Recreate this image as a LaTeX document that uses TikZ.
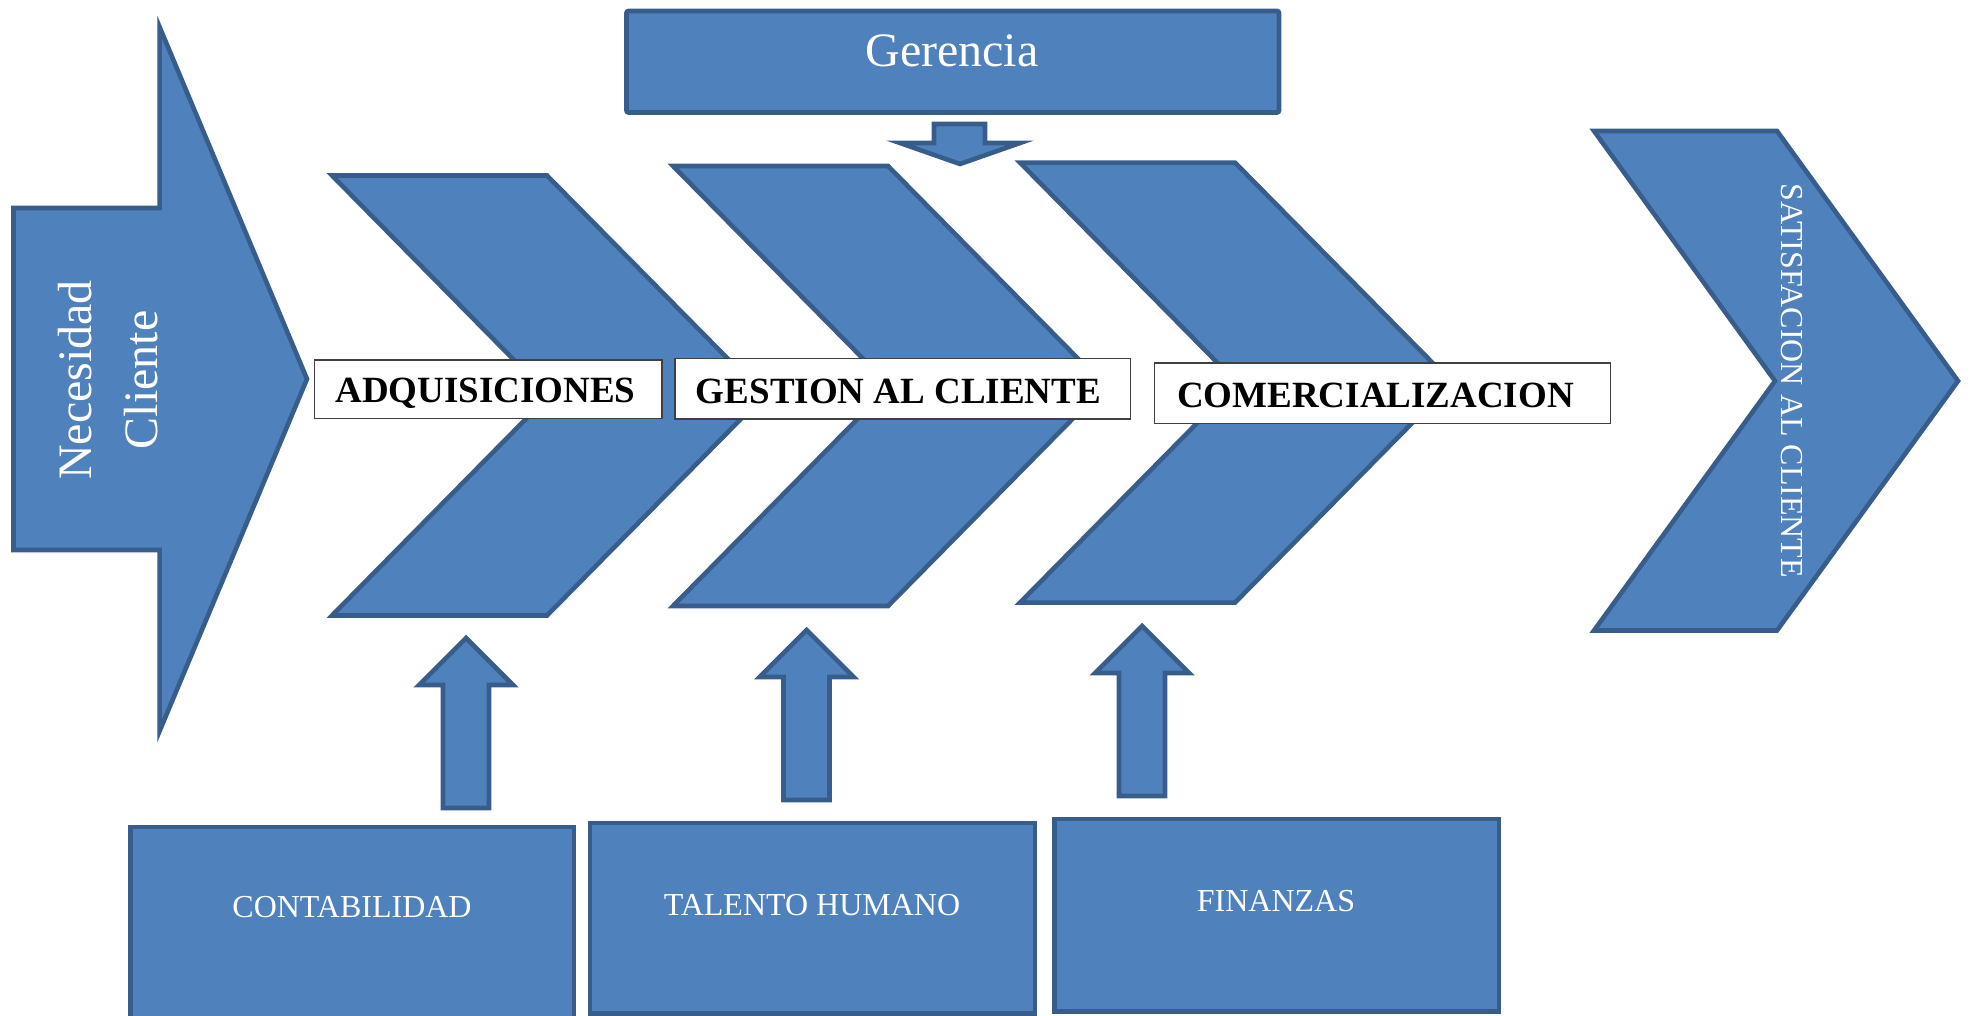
\documentclass[tikz,border=0pt]{standalone}
\usepackage{fontspec}
\setmainfont{Liberation Serif}
\usepackage{tikz}
\usetikzlibrary{positioning}
\definecolor{procblue}{HTML}{4F81BD}
\definecolor{edgeblue}{HTML}{385D8A}

\begin{document}
\begin{tikzpicture}[
    x=0.5pt, y=-0.5pt,
    blockfill/.style={fill=procblue, draw=edgeblue, line width=2.3pt, line join=miter},
    tagbox/.style={fill=white, draw=black!75, line width=0.7pt},
    tagtext/.style={anchor=base, inner sep=0pt, font=\bfseries\fontsize{18.5}{22}\selectfont},
    depttext/.style={anchor=base, inner sep=0pt, text=white, font=\fontsize{16}{19}\selectfont}
]
\clip (0,0) rectangle (1970,1016);

% Entrada
\draw[blockfill] (13.5,208) -- (159.6,208) -- (159.6,27) -- (307,379)
    -- (159.6,731) -- (159.6,550) -- (13.5,550) -- cycle;
\node (nec) at (108,380) [rotate=90, align=center, inner sep=0pt, text=white,
    font=\fontsize{24}{33}\selectfont] {Necesidad\\Cliente};

% Gerencia
\draw[blockfill, rounded corners=1pt] (626.5,11) rectangle (1279,112.5);
\node (ger) at (952,67) [anchor=base, inner sep=0pt, text=white, font=\fontsize{24}{28}\selectfont] {Gerencia};
\draw[blockfill] (934,124) -- (985,124) -- (985,143) -- (1020,143) -- (960,164)
    -- (900,143) -- (934,143) -- cycle;

% Procesos
\foreach \x/\y in {332/175.5, 673/166, 1020/162.6}
    \draw[blockfill] (\x,\y) -- ++(215,0) -- ++(217,220) -- ++(-217,220)
        -- ++(-215,0) -- ++(217,-220) -- cycle;

\draw[tagbox] (314.5,360) rectangle (662,418.5);
\node (adq) at (485.5,402) [tagtext] {ADQUISICIONES};
\draw[tagbox] (675,358.5) rectangle (1130.6,418.8);
\node (gest) at (898.5,403) [tagtext] {GESTION AL CLIENTE};
\draw[tagbox] (1154.4,363) rectangle (1610.5,423.2);
\node (com) at (1375.5,407) [tagtext] {COMERCIALIZACION};

% Salida
\draw[blockfill] (1594,131) -- (1777,131) -- (1958,381) -- (1777,630.5)
    -- (1594,630.5) -- (1775,381) -- cycle;
\node (sat) at (1792,381) [rotate=-90, inner sep=0pt, text=white,
    font=\fontsize{16}{19}\selectfont] {SATISFACION AL CLIENTE};

% Apoyo
\foreach \x/\t/\b in {466/638/808, 806.5/630/800, 1142/626/796}
    \draw[blockfill] (\x,\t) -- ++(47,47) -- ++(-24,0) -- ({\x+23},\b)
        -- ({\x-23},\b) -- ({\x-23},{\t+47}) -- ++(-24,0) -- cycle;

\draw[blockfill] (130.5,827) rectangle (574,1030);
\node (cont) at (352,917.6) [depttext] {CONTABILIDAD};
\draw[blockfill] (590,823) rectangle (1035,1013.5);
\node (tal) at (812,915) [depttext] {TALENTO HUMANO};
\draw[blockfill] (1054.5,819) rectangle (1499,1011.5);
\node (fin) at (1276,911) [depttext] {FINANZAS};
\end{tikzpicture}
\end{document}
